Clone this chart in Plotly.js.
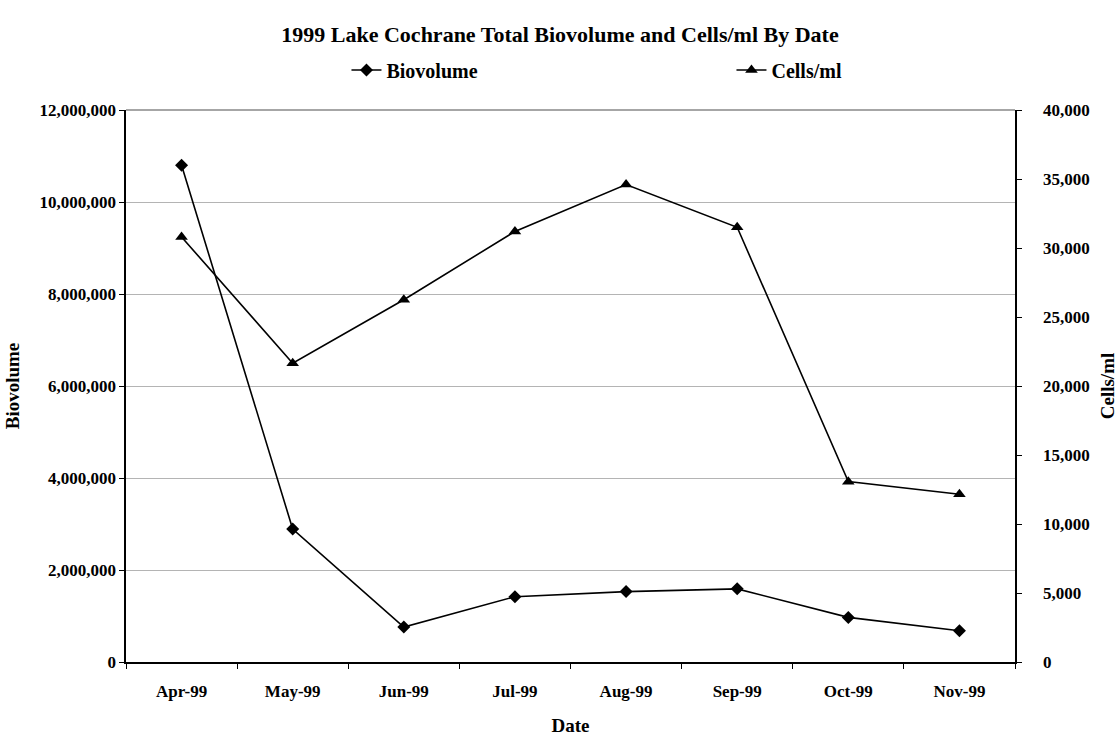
<!DOCTYPE html>
<html>
<head>
<meta charset="utf-8">
<script src="https://cdn.plot.ly/plotly-3.0.1.min.js"></script>
<style>html,body{margin:0;padding:0;background:#fff;}#chart{width:1120px;height:740px;}</style>
</head>
<body>
<div id="chart"></div>
<script>
const dates = ["Apr-99","May-99","Jun-99","Jul-99","Aug-99","Sep-99","Oct-99","Nov-99"];
const biovolume = [10800000, 2890000, 760000, 1420000, 1530000, 1590000, 970000, 680000];
const cellsPerMl = [30800, 21650, 26250, 31200, 34600, 31500, 13070, 12150];
const leftTicks = [0, 2000000, 4000000, 6000000, 8000000, 10000000, 12000000];
const rightTicks = [0, 5000, 10000, 15000, 20000, 25000, 30000, 35000, 40000];

const fam = "Liberation Serif, Times New Roman, serif";
const f = s => ({family: fam, size: s, color: "#000"});
const fmt = v => v.toLocaleString("en-US");

const traces = [
  {x: dates, y: biovolume, name: "<b>Biovolume</b>", type: "scatter", mode: "lines+markers",
   line: {color: "#000", width: 1.6}, marker: {symbol: "diamond", size: 10, color: "#000"}},
  {x: dates, y: cellsPerMl, name: "<b>Cells/ml</b>", type: "scatter", mode: "lines+markers", yaxis: "y2",
   line: {color: "#000", width: 1.6}, marker: {symbol: "triangle-up", size: 11, color: "#000"}}
];

const layout = {
  width: 1120, height: 740,
  margin: {l: 126, r: 105, t: 110, b: 78, autoexpand: false},
  paper_bgcolor: "#fff", plot_bgcolor: "#fff",
  font: f(17),
  title: {text: "<b>1999 Lake Cochrane Total Biovolume and Cells/ml By Date</b>",
          font: f(22), x: 0.5, xanchor: "center", y: 0.954, yanchor: "middle", automargin: false},
  showlegend: true,
  legend: {orientation: "h", x: 0.248, xanchor: "left", y: 1.0725, yanchor: "middle",
           entrywidth: 340, entrywidthmode: "pixels", font: f(20),
           bgcolor: "rgba(0,0,0,0)", traceorder: "normal"},
  xaxis: {type: "category", range: [-0.5, 7.5], tickson: "boundaries", ticks: "outside", ticklen: 5,
          tickcolor: "#000", showline: true, linecolor: "#000", linewidth: 1.6, showgrid: false,
          tickfont: f(17), tickvals: dates, ticklabelstandoff: 13, automargin: false,
          ticktext: dates.map(d => "<b>" + d + "</b>"),
          title: {text: "<b>Date</b>", font: f(19), standoff: 18}},
  yaxis: {range: [0, 12000000], tickvals: leftTicks, ticktext: leftTicks.map(v => "<b>" + fmt(v) + "</b>"),
          ticks: "outside", ticklen: 5, tickcolor: "#000", showline: true, linecolor: "#000", linewidth: 1.6,
          showgrid: true, gridcolor: "#b4b4b4", gridwidth: 1, zeroline: false, automargin: false,
          tickfont: f(17),
          title: {text: "<b>Biovolume</b>", font: f(19), standoff: 15}},
  yaxis2: {overlaying: "y", side: "right", range: [0, 40000], tickvals: rightTicks,
           ticktext: rightTicks.map(v => "<b>" + fmt(v) + "</b>"), ticklabelstandoff: 18,
           ticks: "outside", ticklen: 5, tickcolor: "#000", showline: true, linecolor: "#000", linewidth: 1.6,
           showgrid: false, zeroline: false, tickfont: f(17), automargin: false,
           title: {text: "<b>Cells/ml</b>", font: f(19), standoff: 12}},
  yaxis3: {overlaying: "y", side: "right", range: [0, 40000], tickvals: rightTicks, showticklabels: false,
           ticks: "inside", ticklen: 5, tickcolor: "#000", showline: false, showgrid: false, zeroline: false,
           automargin: false},
  shapes: [{type: "line", xref: "paper", yref: "paper", x0: 0, x1: 1, y0: 1, y1: 1,
            line: {color: "#888", width: 1.6}}]
};

Plotly.newPlot("chart", traces, layout, {displayModeBar: false, staticPlot: true});
</script>
</body>
</html>
